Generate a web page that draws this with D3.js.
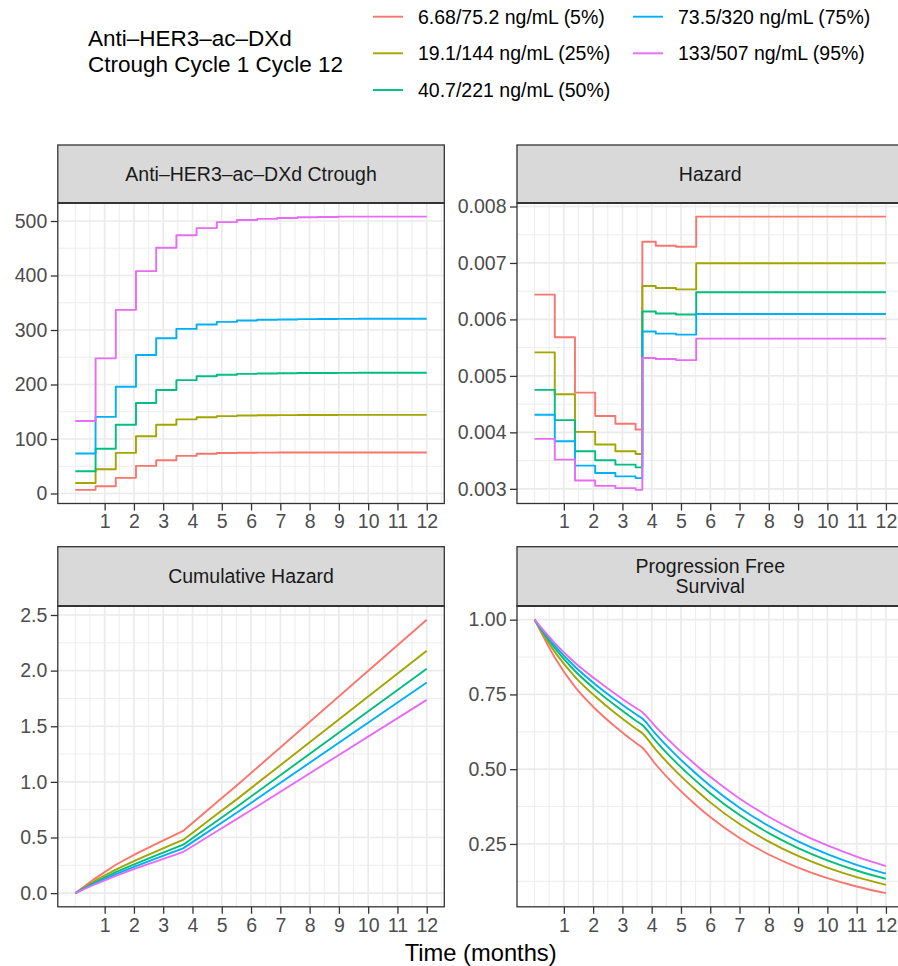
<!DOCTYPE html>
<html>
<head>
<meta charset="utf-8">
<script src="https://cdn.jsdelivr.net/npm/d3@7"></script>
<style>
  html, body { margin: 0; padding: 0; background: #fff; }
  svg { display: block; font-family: "Liberation Sans", Arial, Helvetica, sans-serif; }
</style>
</head>
<body>
<svg id="chart" width="898" height="966"></svg>
<script>
// ---------------- DATA ----------------
const seriesLabels = [
  "6.68/75.2 ng/mL (5%)",
  "19.1/144 ng/mL (25%)",
  "40.7/221 ng/mL (50%)",
  "73.5/320 ng/mL (75%)",
  "133/507 ng/mL (95%)"
];
const seriesColors = ["#F8766D", "#A3A500", "#00BF7D", "#00B0F6", "#E76BF3"];

const legendTitle = ["Anti\u2013HER3\u2013ac\u2013DXd", "Ctrough Cycle 1 Cycle 12"];
const facetTitles = [
  ["Anti\u2013HER3\u2013ac\u2013DXd Ctrough"],
  ["Hazard"],
  ["Cumulative Hazard"],
  ["Progression Free", "Survival"]
];
const xTitle = "Time (months)";
const xTicks = [1, 2, 3, 4, 5, 6, 7, 8, 9, 10, 11, 12];
const xEnd = 12;

// Ctrough: value for each 3-week cycle, starting at these times (months)
const cycleStart = [0, 0.69, 1.38, 2.07, 2.76, 3.45, 4.14, 4.83, 5.52, 6.21, 6.90, 7.59, 8.28, 8.97, 9.66, 10.35, 11.04, 11.73];
const ctroughP05 = [6.68, 13.4, 28.7, 50.7, 61, 69, 73, 74.3, 74.8, 75.0, 75.1, 75.2, 75.2, 75.3, 75.3, 75.3, 75.3, 75.3];
const ctroughP25 = [19.1, 44.6, 74.6, 105, 126, 136, 140, 142, 143, 143.5, 143.8, 144, 144.1, 144.2, 144.2, 144.2, 144.2, 144.2];
const ctroughP50 = [40.7, 82, 126, 166, 190, 208, 215, 218, 219.5, 220.3, 220.7, 221, 221.2, 221.4, 221.5, 221.6, 221.6, 221.6];
const ctroughP75 = [73.5, 140.5, 196, 254, 285, 302, 310, 315, 317.5, 318.7, 319.4, 320, 320.3, 320.5, 320.6, 320.7, 320.7, 320.7];
const ctroughP95 = [133, 248, 337, 408, 451, 474, 487, 498, 502, 504, 505.5, 507, 507.5, 508, 508, 508, 508, 508];
const ctroughTicks = [0, 100, 200, 300, 400, 500];

// Hazard (per day), step function starting at these times
const hazardStart = [0, 0.69, 1.38, 2.07, 2.76, 3.45, 3.68, 4.14, 4.83, 5.52];
const hazardP05 = [0.00644, 0.005684, 0.004704, 0.004289, 0.004152, 0.004051, 0.007376, 0.007305, 0.007287, 0.00782];
const hazardP25 = [0.005417, 0.004675, 0.004009, 0.003784, 0.003665, 0.003618, 0.006593, 0.006557, 0.006533, 0.006995];
const hazardP50 = [0.004752, 0.004217, 0.003665, 0.003505, 0.003428, 0.00338, 0.006141, 0.006106, 0.006088, 0.00648];
const hazardP75 = [0.004312, 0.003843, 0.00341, 0.003279, 0.00322, 0.00319, 0.005785, 0.005749, 0.005731, 0.006095];
const hazardP95 = [0.003885, 0.003517, 0.003148, 0.003053, 0.003012, 0.002982, 0.005316, 0.005298, 0.00528, 0.00566];
const hazardTicks = [0.003, 0.004, 0.005, 0.006, 0.007, 0.008];

// Cumulative hazard at the hazard change points (piecewise linear)
const cumTimes = [0, 0.69, 1.38, 2.07, 2.76, 3.45, 3.68, 4.14, 4.83, 5.52, 12];
const cumP05 = [0, 0.135, 0.255, 0.353, 0.443, 0.531, 0.559, 0.662, 0.816, 0.969, 2.458];
const cumP25 = [0, 0.114, 0.212, 0.296, 0.376, 0.453, 0.478, 0.570, 0.708, 0.845, 2.178];
const cumP50 = [0, 0.100, 0.188, 0.265, 0.339, 0.411, 0.435, 0.521, 0.649, 0.777, 2.016];
const cumP75 = [0, 0.091, 0.171, 0.243, 0.312, 0.379, 0.402, 0.483, 0.603, 0.724, 1.893];
const cumP95 = [0, 0.082, 0.156, 0.222, 0.286, 0.349, 0.370, 0.444, 0.556, 0.667, 1.737];
const cumTicks = [0, 0.5, 1.0, 1.5, 2.0, 2.5];

// Progression free survival
const pfsTimes = [0, 0.69, 1.38, 2.07, 2.76, 3.45, 3.68, 4.14, 4.83, 5.52, 6, 7, 8, 9, 10, 11, 12];
const pfsP05 = [1, 0.8735, 0.7752, 0.7023, 0.6419, 0.5882, 0.5718, 0.5157, 0.4423, 0.3796, 0.3399, 0.2701, 0.2147, 0.1706, 0.1356, 0.1077, 0.0856];
const pfsP25 = [1, 0.8924, 0.8090, 0.7437, 0.6869, 0.6360, 0.6201, 0.5654, 0.4927, 0.4295, 0.3891, 0.3168, 0.2579, 0.2099, 0.1709, 0.1391, 0.1133];
const pfsP50 = [1, 0.9050, 0.8283, 0.7670, 0.7126, 0.6631, 0.6476, 0.5942, 0.5226, 0.4600, 0.4196, 0.3466, 0.2862, 0.2364, 0.1952, 0.1612, 0.1332];
const pfsP75 = [1, 0.9134, 0.8426, 0.7843, 0.7321, 0.6843, 0.6692, 0.6171, 0.5470, 0.4849, 0.4447, 0.3713, 0.3100, 0.2588, 0.2161, 0.1804, 0.1506];
const pfsP95 = [1, 0.9216, 0.8560, 0.8013, 0.7515, 0.7054, 0.6908, 0.6413, 0.5737, 0.5135, 0.4744, 0.4021, 0.3409, 0.2890, 0.2450, 0.2077, 0.1761];
const pfsTicks = [0.25, 0.50, 0.75, 1.00];

// ---------------- LAYOUT ----------------
const svg = d3.select("#chart");
const FONT_SMALL = 19.5, FONT_BASE = 23.7, FONT_LEGTITLE = 22.5;
const panelW = 386.5;
const colX = [57.8, 517];
const rows = [
  { stripTop: 145, panelTop: 203, panelBottom: 503.5 },
  { stripTop: 546.7, panelTop: 606, panelBottom: 906.8 }
];

function steps(times, vals, end) {
  const pts = times.map((t, i) => [t, vals[i]]);
  pts.push([end, vals[vals.length - 1]]);
  return pts;
}
function pairs(times, vals) { return times.map((t, i) => [t, vals[i]]); }

const panels = [
  { title: facetTitles[0], col: 0, row: 0, curve: d3.curveStepAfter,
    series: [ctroughP05, ctroughP25, ctroughP50, ctroughP75, ctroughP95].map(v => steps(cycleStart, v, xEnd)),
    ticks: ctroughTicks, fmt: d3.format("d") },
  { title: facetTitles[1], col: 1, row: 0, curve: d3.curveStepAfter,
    series: [hazardP05, hazardP25, hazardP50, hazardP75, hazardP95].map(v => steps(hazardStart, v, xEnd)),
    ticks: hazardTicks, fmt: d3.format(".3f") },
  { title: facetTitles[2], col: 0, row: 1, curve: d3.curveLinear,
    series: [cumP05, cumP25, cumP50, cumP75, cumP95].map(v => pairs(cumTimes, v)),
    ticks: cumTicks, fmt: d3.format(".1f") },
  { title: facetTitles[3], col: 1, row: 1, curve: d3.curveMonotoneX,
    series: [pfsP05, pfsP25, pfsP50, pfsP75, pfsP95].map(v => pairs(pfsTimes, v)),
    ticks: pfsTicks, fmt: d3.format(".2f") }
];

// minor breaks helper (ggplot style: midpoints between extended majors)
function minorBreaks(majors, lo, hi) {
  const step = majors[1] - majors[0];
  const ext = [majors[0] - step, ...majors, majors[majors.length - 1] + step];
  const out = [];
  for (let i = 0; i < ext.length - 1; i++) {
    out.push(ext[i] + step / 2);
  }
  out.push(ext[0], ext[ext.length - 1]);
  return out.filter(v => v >= lo && v <= hi);
}

const xMin = -0.6, xMax = 12.6;

panels.forEach(p => {
  const x0 = colX[p.col], x1 = x0 + panelW;
  const r = rows[p.row];
  const g = svg.append("g");

  const allY = p.series.flat().map(d => d[1]);
  const [lo, hi] = d3.extent(allY);
  const pad = (hi - lo) * 0.05;
  const y = d3.scaleLinear().domain([lo - pad, hi + pad]).range([r.panelBottom, r.panelTop]);
  const x = d3.scaleLinear().domain([xMin, xMax]).range([x0, x1]);

  g.append("rect").attr("x", x0).attr("y", r.panelTop).attr("width", panelW)
    .attr("height", r.panelBottom - r.panelTop).attr("fill", "#fff");

  const xMinor = minorBreaks(xTicks, xMin, xMax);
  const yMinor = minorBreaks(p.ticks, lo - pad, hi + pad);
  g.append("g").selectAll("line").data(xMinor).join("line")
    .attr("x1", d => x(d)).attr("x2", d => x(d))
    .attr("y1", r.panelTop).attr("y2", r.panelBottom)
    .attr("stroke", "#EBEBEB").attr("stroke-width", 0.9);
  g.append("g").selectAll("line").data(yMinor).join("line")
    .attr("y1", d => y(d)).attr("y2", d => y(d))
    .attr("x1", x0).attr("x2", x1)
    .attr("stroke", "#EBEBEB").attr("stroke-width", 0.9);
  g.append("g").selectAll("line").data(xTicks).join("line")
    .attr("x1", d => x(d)).attr("x2", d => x(d))
    .attr("y1", r.panelTop).attr("y2", r.panelBottom)
    .attr("stroke", "#EBEBEB").attr("stroke-width", 1.7);
  g.append("g").selectAll("line").data(p.ticks).join("line")
    .attr("y1", d => y(d)).attr("y2", d => y(d))
    .attr("x1", x0).attr("x2", x1)
    .attr("stroke", "#EBEBEB").attr("stroke-width", 1.7);

  const line = d3.line().x(d => x(d[0])).y(d => y(d[1])).curve(p.curve);
  p.series.forEach((s, i) => {
    g.append("path").datum(s).attr("d", line)
      .attr("fill", "none").attr("stroke", seriesColors[i])
      .attr("stroke-width", 1.9).attr("stroke-linejoin", "round");
  });

  g.append("rect").attr("x", x0).attr("y", r.panelTop).attr("width", panelW)
    .attr("height", r.panelBottom - r.panelTop).attr("fill", "none")
    .attr("stroke", "#333333").attr("stroke-width", 1.3);

  g.append("rect").attr("x", x0).attr("y", r.stripTop).attr("width", panelW)
    .attr("height", r.panelTop - r.stripTop).attr("fill", "#D9D9D9")
    .attr("stroke", "#333333").attr("stroke-width", 1.3);
  g.append("line").attr("x1", x0).attr("x2", x1).attr("y1", r.panelTop).attr("y2", r.panelTop)
    .attr("stroke", "#333333").attr("stroke-width", 2.2);
  const cy = (r.stripTop + r.panelTop) / 2;
  const lh = 20;
  p.title.forEach((t, i) => {
    g.append("text").attr("x", (x0 + x1) / 2)
      .attr("y", cy + (i - (p.title.length - 1) / 2) * lh)
      .attr("dy", "0.35em").attr("text-anchor", "middle")
      .attr("font-size", FONT_SMALL).attr("fill", "#1A1A1A").text(t);
  });

  const yAxis = d3.axisLeft(y).tickValues(p.ticks).tickFormat(p.fmt).tickSize(7).tickPadding(3.5);
  const ya = g.append("g").attr("transform", `translate(${x0},0)`).call(yAxis);
  const xAxis = d3.axisBottom(x).tickValues(xTicks).tickFormat(d3.format("d")).tickSize(7).tickPadding(4);
  const xa = g.append("g").attr("transform", `translate(0,${r.panelBottom})`).call(xAxis);
  [ya, xa].forEach(a => {
    a.select(".domain").remove();
    a.selectAll(".tick line").attr("stroke", "#333333").attr("stroke-width", 1.3);
    a.selectAll(".tick text").attr("fill", "#4D4D4D").attr("font-size", FONT_SMALL)
      .attr("font-family", "Liberation Sans, Arial, Helvetica, sans-serif");
  });
});

svg.append("text").attr("x", (colX[0] + colX[1] + panelW) / 2).attr("y", 953)
  .attr("dy", "0.35em").attr("text-anchor", "middle")
  .attr("font-size", FONT_BASE).attr("fill", "#000").text(xTitle);

const leg = svg.append("g");
legendTitle.forEach((t, i) => {
  leg.append("text").attr("x", 88).attr("y", 45.5 + i * 26)
    .attr("font-size", FONT_LEGTITLE).attr("fill", "#000").text(t);
});
const legCols = [373, 633];
const legRows = [16.7, 53.3, 90];
seriesLabels.forEach((lab, i) => {
  const c = Math.floor(i / 3), rr = i % 3;
  const kx = legCols[c], ky = legRows[rr];
  leg.append("line").attr("x1", kx).attr("x2", kx + 30).attr("y1", ky).attr("y2", ky)
    .attr("stroke", seriesColors[i]).attr("stroke-width", 1.9);
  leg.append("text").attr("x", kx + 45).attr("y", ky).attr("dy", "0.35em")
    .attr("font-size", FONT_SMALL).attr("fill", "#000").text(lab);
});
</script>
</body>
</html>
